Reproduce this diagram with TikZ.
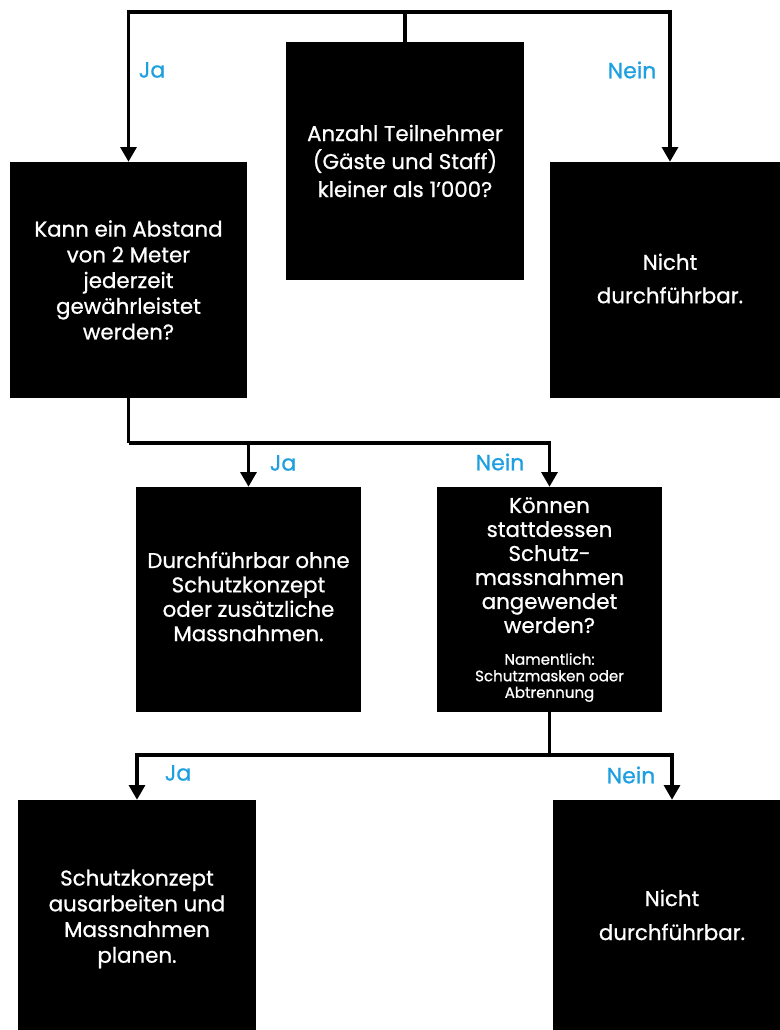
\documentclass[tikz,border=0pt]{standalone}
\usepackage{fontspec}
\setmainfont{Poppins}[FakeBold=0.8]
\usetikzlibrary{arrows.meta}
\definecolor{lbl}{RGB}{30,160,224}
\tikzset{
  box/.style={fill=black, draw=none, text=white, align=center, inner sep=0pt,
    font=\fontsize{16}{19.3}\selectfont},
  conn/.style={line width=2.3pt, draw=black},
  arr/.style={conn, -{Triangle[width=12pt,length=11pt]}},
  lab/.style={text=lbl, font=\fontsize{16.5}{18}\selectfont, inner sep=0pt},
}
\begin{document}
\begin{tikzpicture}[x=0.75pt,y=-0.75pt]
\clip (0,0) rectangle (780,1030);
\fill[white] (0,0) rectangle (780,1030);
\node[box, minimum width=178.5pt, minimum height=178.5pt, font=\fontsize{16}{21}\selectfont] (A) at (405,161) {Anzahl Teilnehmer\\(Gäste und Staff)\\kleiner als 1'000?};
\node[box, minimum width=177.75pt, minimum height=177pt] (B) at (128.5,280) {Kann ein Abstand\\von 2 Meter\\jederzeit\\gewährleistet\\werden?};
\node[box, minimum width=180pt, minimum height=177pt] (C) at (670,280) {};
\node[box, font=\fontsize{16}{25}\selectfont] (Ct) at (670,278.5) {Nicht\\durchführbar.};
\node[box, minimum width=168.75pt, minimum height=168.75pt] (D) at (248.5,599.5) {};
\node[box, font=\fontsize{16}{18.3}\selectfont] (Dt) at (248.5,596.5) {Durchführbar ohne\\Schutzkonzept\\oder zusätzliche\\Massnahmen.};
\node[box, minimum width=168.75pt, minimum height=168.75pt] (E) at (549.5,599.5) {};
\node[box, anchor=north, font=\fontsize{16}{18}\selectfont] (Et) at (549.5,497) {Können\\stattdessen\\Schutz-\\massnahmen\\angewendet\\werden?};
\node[box, anchor=north, font=\fontsize{11.3}{12.4}\selectfont] (En) at (549.5,653) {Namentlich:\\Schutzmasken oder\\Abtrennung};
\node[box, minimum width=178.5pt, minimum height=178.5pt] (F) at (137,919) {Schutzkonzept\\ausarbeiten und\\Massnahmen\\planen.};
\node[box, minimum width=178.5pt, minimum height=178.5pt] (G) at (672,919) {};
\node[box, font=\fontsize{16}{25.5}\selectfont] (Gt) at (672,915) {Nicht\\durchführbar.};
\coordinate (t) at (405,12);
\coordinate (m1) at (128.5,443);
\coordinate (m2) at (549.5,755);
\draw[conn] (A.north) -- (t);
\draw[arr] (t) -| (B.north);
\draw[arr] (t) -| (C.north);
\draw[conn] (B.south) -- (m1);
\draw[arr] (m1) -| (D.north);
\draw[arr] (m1) -| (E.north);
\draw[conn] (E.south) -- (m2);
\draw[arr] (m2) -| (F.north);
\draw[arr] (m2) -| (G.north);
\node[lab] (l1) at (152,70) {Ja};
\node[lab] (l2) at (632,70) {Nein};
\node[lab] (l3) at (283,463) {Ja};
\node[lab] (l4) at (500,462) {Nein};
\node[lab] (l5) at (178,773) {Ja};
\node[lab] (l6) at (631,775) {Nein};
\end{tikzpicture}
\end{document}
